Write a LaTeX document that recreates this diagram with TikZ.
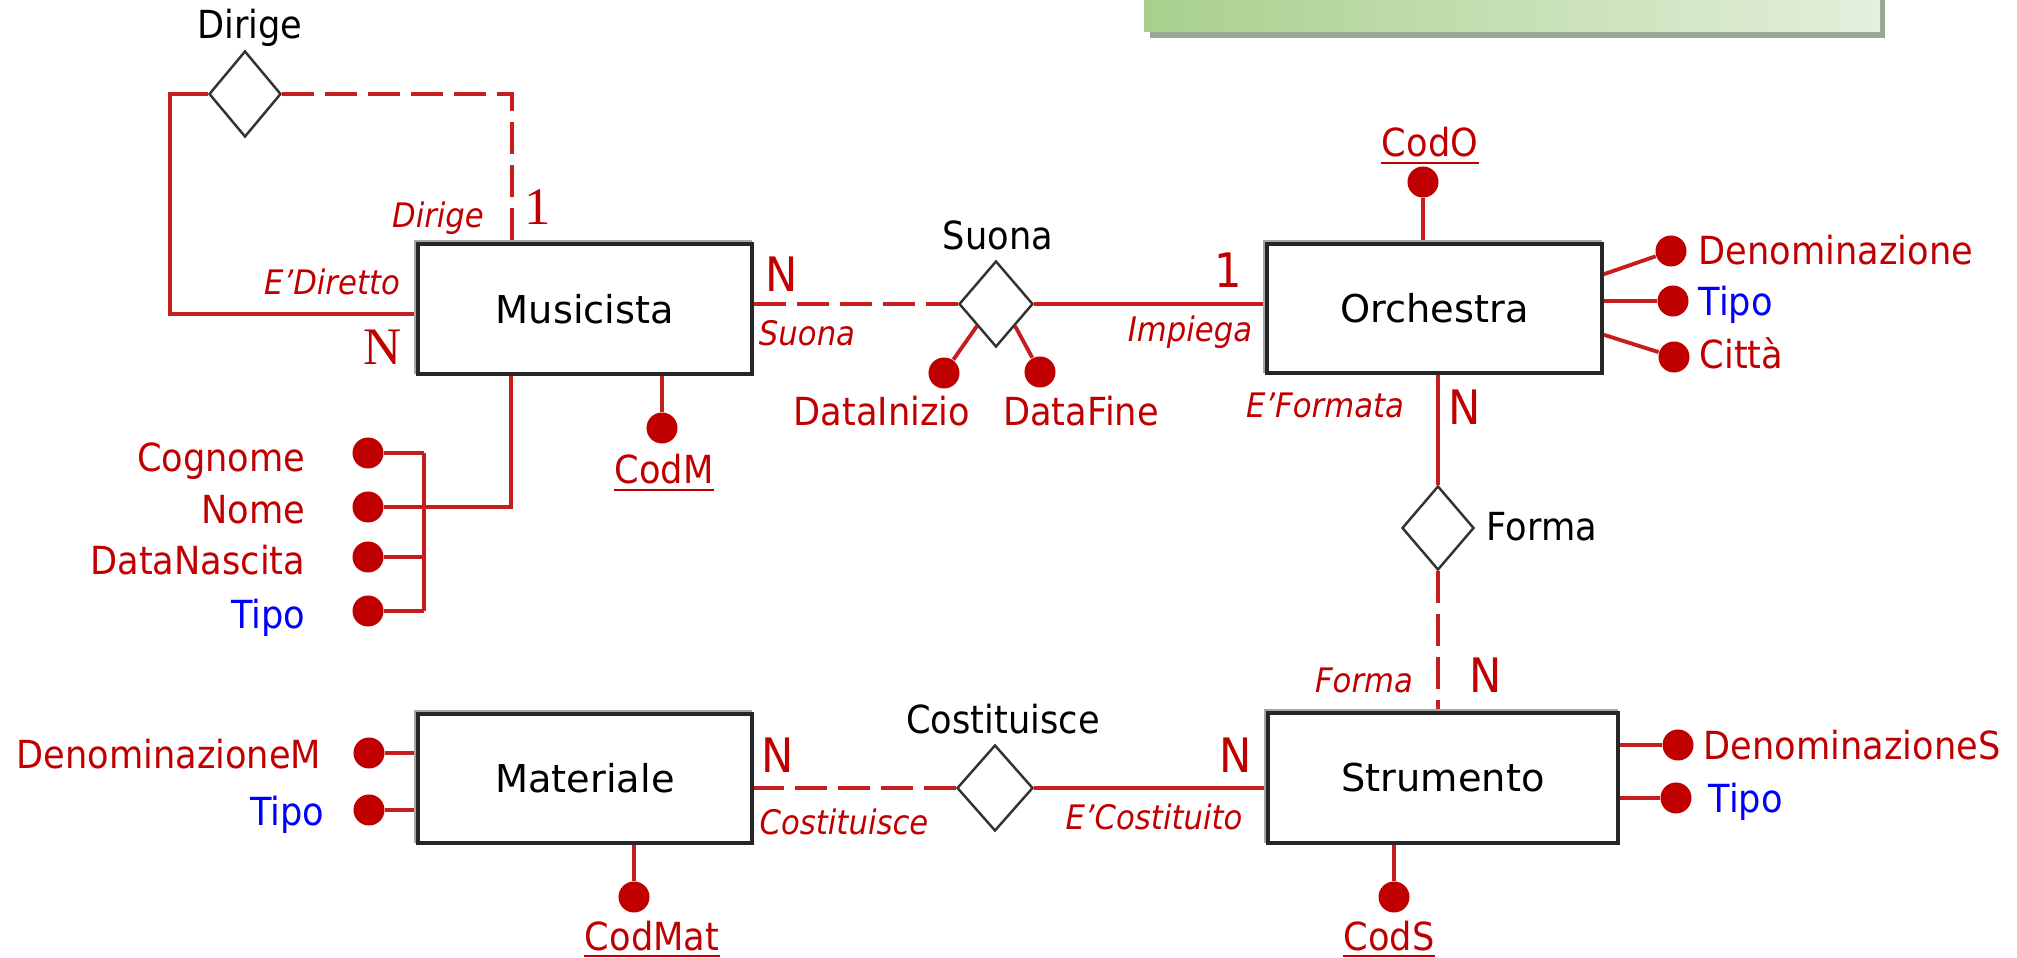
\documentclass[tikz,border=0pt]{standalone}
\usepackage{fontspec}
\setmainfont{DejaVu Sans}[FakeStretch=0.91]
\newfontfamily\entfont{DejaVu Sans}
\newfontfamily\serifN{Liberation Serif}
\usetikzlibrary{shapes.geometric,calc}
\definecolor{dred}{RGB}{192,0,0}
\definecolor{lred}{RGB}{198,30,30}
\definecolor{tblue}{RGB}{0,0,255}
\definecolor{gleft}{RGB}{168,208,140}
\definecolor{gright}{RGB}{228,239,220}
\definecolor{gshadow}{RGB}{152,168,144}
\pgfdeclarelayer{bg}
\pgfsetlayers{bg,main}
\begin{document}
\begin{tikzpicture}[x=0.01cm,y=-0.01cm,
  conn/.style={draw=lred,line width=1.1pt},
  dconn/.style={conn,dash pattern=on 0.32cm off 0.11cm},
  ent/.style={rectangle,draw=black!85,line width=1pt,fill=white,inner sep=0,
    font=\entfont\fontsize{10.9}{13}\selectfont,
    preaction={draw=black!35,line width=1pt,
      transform canvas={xshift=-0.022cm,yshift=0.022cm}}},
  rel/.style={diamond,draw=black!80,line width=0.7pt,fill=white,inner sep=0},
  adot/.style={circle,fill=dred,minimum size=0.31cm,inner sep=0},
  lab/.style={inner sep=0,font=\fontsize{11}{13}\selectfont},
  attr/.style={lab,text=dred},
  attrb/.style={lab,text=tblue},
  role/.style={inner sep=0,text=dred,font=\fontsize{9.6}{11}\selectfont\itshape},
  card/.style={inner sep=0,text=dred,font=\fontsize{13.5}{15}\selectfont},
  scard/.style={inner sep=0,text=dred,font=\fontsize{15}{17}\selectfont\serifN},
  uline/.style={draw=dred,line width=0.85pt}]
\useasboundingbox (0,0) rectangle (2017,958);

% green banner (cut off at top)
\fill[gshadow] (1150,0) rectangle (1885,38);
\shade[left color=gleft,right color=gright] (1144,0) rectangle (1880,32);

% entities
\node[ent,minimum width=3.34cm,minimum height=1.30cm] (musicista) at (585,309) {Musicista};
\node[ent,minimum width=3.35cm,minimum height=1.29cm] (orchestra) at (1434.5,308.5) {Orchestra};
\node[ent,minimum width=3.50cm,minimum height=1.30cm] (strumento) at (1443,778) {Strumento};
\node[ent,minimum width=3.34cm,minimum height=1.29cm] (materiale) at (585,778.5) {Materiale};

% relationships
\node[rel,minimum width=0.72cm,minimum height=0.86cm] (dirige) at (245,94) {};
\node[rel,minimum width=0.74cm,minimum height=0.86cm] (suona) at (996,304) {};
\node[rel,minimum width=0.72cm,minimum height=0.84cm] (forma) at (1438,528) {};
\node[rel,minimum width=0.76cm,minimum height=0.86cm] (costituisce) at (995,788) {};

\node[lab,anchor=base] (tdirige) at (250,39) {Dirige};
\node[lab,anchor=base] (tsuona) at (998,250) {Suona};
\node[lab,anchor=base west] (tforma) at (1486,541) {Forma};
\node[lab,anchor=base] (tcost) at (1003,734) {Costituisce};

% attribute dots
\node[adot] (dinizio) at (944,373) {};
\node[adot] (dfine) at (1040,372) {};
\node[adot] (codm) at (662,428) {};
\node[adot] (cog) at (368,453) {};
\node[adot] (nome) at (368,507) {};
\node[adot] (dnasc) at (368,557) {};
\node[adot] (mtipo) at (368,611) {};
\node[adot] (codo) at (1423,182) {};
\node[adot] (oden) at (1671,251) {};
\node[adot] (otipo) at (1673,301) {};
\node[adot] (ocitta) at (1674,357) {};
\node[adot] (sden) at (1678,745) {};
\node[adot] (stipo) at (1676,798) {};
\node[adot] (cods) at (1394,897) {};
\node[adot] (maden) at (369,753) {};
\node[adot] (matipo) at (369,810) {};
\node[adot] (codmat) at (634,897) {};
\coordinate (mbar) at (424,530);

% connectors
\begin{pgfonlayer}{bg}
\draw[conn] (dirige.west) -- ++(-38,0) |- ($(musicista.west)+(0,5)$);
\draw[dconn] (dirige.east) -| ($(musicista.north west)+(96,0)$);
\draw[dconn] (suona.west) -- (suona.west -| musicista.east);
\draw[conn] (suona.east) -- (suona.east -| orchestra.west);
\draw[conn] (forma.north) -- (forma.north |- orchestra.south);
\draw[dconn] (forma.south) -- (forma.south |- strumento.north);
\draw[conn] (costituisce.east) -- (costituisce.east -| strumento.west);
\draw[dconn] (costituisce.west) -- (costituisce.west -| materiale.east);

\draw[conn] (dinizio) -- (suona.south west);
\draw[conn] (dfine) -- (suona.south east);
\draw[conn] (codm) -- (codm |- musicista.south);
\draw[conn] (cog) -- (cog -| mbar);
\draw[conn] (dnasc) -- (dnasc -| mbar);
\draw[conn] (mtipo) -- (mtipo -| mbar);
\draw[conn] (cog -| mbar) -- (mtipo -| mbar);
\draw[conn] (nome) -| ($(musicista.south west)+(95,0)$);
\draw[conn] (codo) -- (codo |- orchestra.north);
\draw[conn] ($(orchestra.north east)+(0,32)$) -- (oden);
\draw[conn] (otipo) -- (otipo -| orchestra.east);
\draw[conn] ($(orchestra.south east)+(0,-40)$) -- (ocitta);
\draw[conn] (sden) -- (sden -| strumento.east);
\draw[conn] (stipo) -- (stipo -| strumento.east);
\draw[conn] (cods) -- (cods |- strumento.south);
\draw[conn] (maden) -- (maden -| materiale.west);
\draw[conn] (matipo) -- (matipo -| materiale.west);
\draw[conn] (codmat) -- (codmat |- materiale.south);
\end{pgfonlayer}

% attribute labels
\node[attr,anchor=base] (tinizio) at (882,426) {DataInizio};
\node[attr,anchor=base] (tfine) at (1081,426) {DataFine};
\node[attr,anchor=base] (tcodm) at (664,484) {CodM};
\node[attr,anchor=base east] (tcog) at (306,472) {Cognome};
\node[attr,anchor=base east] (tnome) at (306,524) {Nome};
\node[attr,anchor=base east] (tdnasc) at (306,575) {DataNascita};
\node[attrb,anchor=base east] (tmtipo) at (306,629) {Tipo};
\node[attr,anchor=base] (tcodo) at (1430,157) {CodO};
\node[attr,anchor=base west] (toden) at (1698,265) {Denominazione};
\node[attrb,anchor=base west] (totipo) at (1698,316) {Tipo};
\node[attr,anchor=base west] (tocitta) at (1699,369) {Città};
\node[attr,anchor=base west] (tsden) at (1703,760) {DenominazioneS};
\node[attrb,anchor=base west] (tstipo) at (1708,813) {Tipo};
\node[attr,anchor=base] (tcods) at (1389,950) {CodS};
\node[attr,anchor=base east] (tmaden) at (322,769) {DenominazioneM};
\node[attrb,anchor=base east] (tmatipo) at (325,826) {Tipo};
\node[attr,anchor=base] (tcodmat) at (652,950) {CodMat};

\foreach \t in {tcodm,tcodo,tcods,tcodmat}{
  \draw[uline] ([yshift=-0.06cm]\t.base west) -- ([yshift=-0.06cm]\t.base east);
}

% role labels
\node[role,anchor=base] (rdirige) at (438,228) {Dirige};
\node[role,anchor=base] (rdiretto) at (332,295) {E’Diretto};
\node[role,anchor=base] (rsuona) at (807,346) {Suona};
\node[role,anchor=base] (rimpiega) at (1190,342) {Impiega};
\node[role,anchor=base] (rformata) at (1325,418) {E’Formata};
\node[role,anchor=base] (rforma) at (1364,693) {Forma};
\node[role,anchor=base] (rcost) at (844,835) {Costituisce};
\node[role,anchor=base] (rcostito) at (1154,830) {E’Costituito};

% cardinalities
\node[scard,anchor=base] (c1) at (538,225) {1};
\node[scard,anchor=base] (c2) at (383,365) {N};
\node[card,anchor=base] (c3) at (782,292) {N};
\node[card,anchor=base] (c4) at (1228,288) {1};
\node[card,anchor=base] (c5) at (1465,425) {N};
\node[card,anchor=base] (c6) at (1486,693) {N};
\node[card,anchor=base] (c7) at (778,773) {N};
\node[card,anchor=base] (c8) at (1236,773) {N};
\end{tikzpicture}
\end{document}
